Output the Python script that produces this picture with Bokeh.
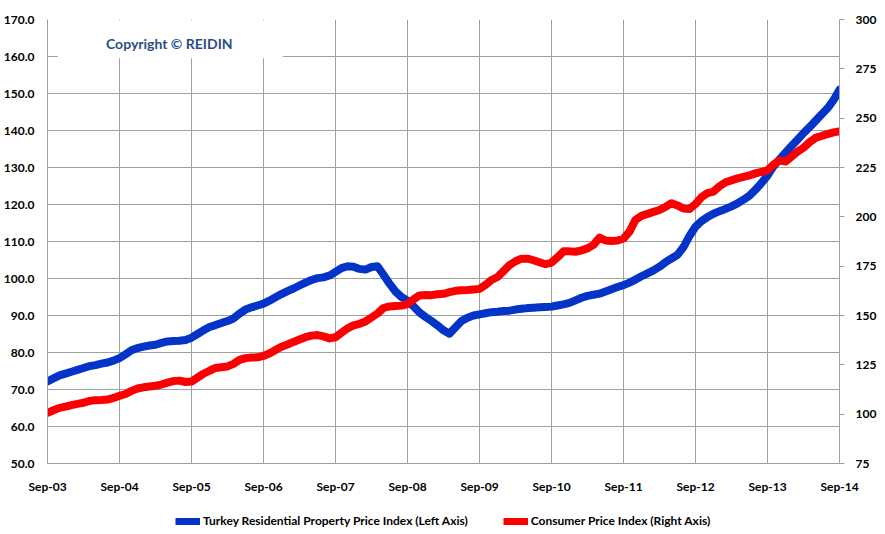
from bokeh.plotting import figure
from bokeh.layouts import column
from bokeh.models import (Range1d, LinearAxis, FixedTicker, BoxAnnotation, Label,
                          Legend, LegendItem, NumeralTickFormatter, ColumnDataSource)
from bokeh.embed import file_html
from bokeh.resources import INLINE

# Monthly data Sep-03 .. Sep-14
tick_labels = ["Sep-03", "Sep-04", "Sep-05", "Sep-06", "Sep-07", "Sep-08",
               "Sep-09", "Sep-10", "Sep-11", "Sep-12", "Sep-13", "Sep-14"]

property_index = [
    72.2, 73.0, 73.8, 74.3, 74.8, 75.3, 75.8, 76.3, 76.6, 77.0, 77.3, 77.8,   # Sep-03..Aug-04
    78.5, 79.5, 80.6, 81.2, 81.6, 81.9, 82.1, 82.6, 83.0, 83.1, 83.2, 83.4,   # Sep-04..Aug-05
    84.0, 85.0, 86.0, 86.9, 87.4, 88.0, 88.5, 89.2, 90.5, 91.6, 92.2, 92.7,   # Sep-05..Aug-06
    93.2, 94.0, 94.9, 95.8, 96.6, 97.3, 98.1, 98.9, 99.6, 100.1, 100.3, 100.8,  # Sep-06..Aug-07
    101.8, 102.8, 103.3, 103.2, 102.6, 102.4, 103.1, 103.3, 101.0, 98.6, 96.5, 95.0,  # Sep-07..Aug-08
    94.0, 92.5, 90.8, 89.6, 88.5, 87.3, 86.0, 85.1, 86.8, 88.5, 89.4, 90.0,   # Sep-08..Aug-09
    90.3, 90.6, 90.9, 91.0, 91.2, 91.3, 91.6, 91.8, 92.0, 92.1, 92.2, 92.3,   # Sep-09..Aug-10
    92.4, 92.7, 93.0, 93.4, 94.1, 94.8, 95.3, 95.6, 95.9, 96.5, 97.1, 97.7,   # Sep-10..Aug-11
    98.2, 98.9, 99.7, 100.6, 101.4, 102.2, 103.2, 104.4, 105.4, 106.4, 108.5, 111.5,  # Sep-11..Aug-12
    114.0, 115.5, 116.6, 117.5, 118.2, 118.8, 119.5, 120.3, 121.3, 122.4, 124.0, 125.8,  # Sep-12..Aug-13
    127.8, 130.3, 132.2, 134.0, 135.8, 137.5, 139.3, 140.9, 142.6, 144.3, 146.0, 148.2,  # Sep-13..Aug-14
    151.0,                                                                     # Sep-14
]

cpi = [
    100.7, 102.0, 103.2, 103.8, 104.6, 105.2, 105.8, 106.7, 107.1, 107.2, 107.4, 108.2,
    109.3, 110.2, 111.8, 113.0, 113.6, 114.0, 114.4, 115.0, 116.0, 116.8, 117.0, 116.3,
    116.5, 118.5, 120.5, 122.0, 123.4, 123.8, 124.2, 125.5, 127.5, 128.4, 128.7, 128.8,
    129.5, 130.8, 132.5, 134.2, 135.3, 136.6, 137.8, 139.0, 139.8, 140.1, 139.4, 138.4,
    139.0, 141.2, 143.5, 145.0, 145.8, 147.0, 149.0, 151.0, 153.8, 154.6, 154.8, 155.0,
    155.8, 158.2, 160.2, 160.4, 160.3, 160.8, 161.0, 161.8, 162.5, 162.8, 162.9, 163.2,
    163.5, 165.5, 168.0, 169.5, 172.5, 175.5, 177.5, 178.8, 178.8, 178.0, 177.0, 176.0,
    176.8, 179.5, 182.5, 182.5, 182.3, 183.0, 184.0, 185.8, 189.5, 188.0, 187.8, 188.0,
    189.0, 192.5, 198.5, 200.5, 201.5, 202.5, 203.5, 205.0, 206.9, 205.8, 204.2, 204.0,
    206.5, 210.0, 212.0, 212.8, 215.5, 217.5, 218.5, 219.5, 220.3, 221.0, 222.0, 222.8,
    223.5, 226.5, 228.6, 228.0, 230.5, 233.0, 235.0, 237.8, 240.0, 241.0, 241.9, 242.8,
    243.3,
]

left_ticks = [50, 60, 70, 80, 90, 100, 110, 120, 130, 140, 150, 160, 170]
right_ticks = [75, 100, 125, 150, 175, 200, 225, 250, 275, 300]

series_names = ["Turkey Residential Property Price Index (Left Axis)",
                "Consumer Price Index (Right Axis)"]

month_idx = list(range(len(property_index)))
src = ColumnDataSource(dict(m=month_idx, prop=property_index, cpi=cpi))

FONT = "Lato"
GRID = "#a0a0a0"
BLUE = "#0433c8"
RED = "#fb0000"

fig = figure(frame_width=792, frame_height=444, output_backend="svg", toolbar_location=None,
             x_range=Range1d(0, len(property_index) - 1), y_range=Range1d(50, 170),
             min_border_left=40, min_border_right=37, min_border_top=19, min_border_bottom=42,
             background_fill_color="white", border_fill_color="white", outline_line_color=None)
fig.extra_y_ranges = {"right": Range1d(75, 300)}

xticks = [i * 12 for i in range(len(tick_labels))]
fig.xaxis.ticker = FixedTicker(ticks=xticks)
fig.xaxis.major_label_overrides = {t: lab for t, lab in zip(xticks, tick_labels)}
fig.yaxis.ticker = FixedTicker(ticks=left_ticks)
fig.yaxis.formatter = NumeralTickFormatter(format="0.0")

for ax in (fig.xaxis[0], fig.yaxis[0]):
    ax.axis_line_color = GRID
    ax.major_tick_line_color = None
    ax.minor_tick_line_color = None
    ax.major_label_text_font = FONT
    ax.major_label_text_font_style = "bold"
    ax.major_label_text_font_size = "12px"
    ax.major_label_text_color = "#000000"
fig.yaxis.major_label_standoff = 7
fig.xaxis.major_label_standoff = 9

raxis = LinearAxis(y_range_name="right", ticker=FixedTicker(ticks=right_ticks))
raxis.axis_line_color = GRID
raxis.major_tick_line_color = GRID
raxis.major_tick_out = 5
raxis.major_tick_in = 0
raxis.minor_tick_line_color = None
raxis.major_label_standoff = 11
raxis.major_label_text_font = FONT
raxis.major_label_text_font_style = "bold"
raxis.major_label_text_font_size = "12px"
raxis.major_label_text_color = "#000000"
fig.add_layout(raxis, "right")

fig.xgrid.ticker = FixedTicker(ticks=xticks)
fig.ygrid.ticker = FixedTicker(ticks=left_ticks)
fig.xgrid.grid_line_color = GRID
fig.ygrid.grid_line_color = GRID

fig.line("m", "prop", source=src, line_color=BLUE, line_width=8,
         line_join="round", line_cap="round")
fig.line("m", "cpi", source=src, y_range_name="right", line_color=RED, line_width=8,
         line_join="round", line_cap="round")

# copyright box (white, hides gridlines)
box = BoxAnnotation(left=1.7, right=39.2, bottom=159.5, top=169.75,
                    fill_color="white", fill_alpha=1.0, line_alpha=0, level="underlay")
fig.add_layout(box)
fig.add_layout(Label(x=20.3, y=163.6, text="Copyright © REIDIN", text_align="center",
                     text_baseline="middle", text_font=FONT, text_font_style="bold",
                     text_font_size="14px", text_color="#2d4d82"))

# legend strip below the chart (same series, drawn outside the strip's visible range)
leg = figure(width=869, height=25, output_backend="svg", toolbar_location=None,
             x_range=Range1d(0, 1), y_range=Range1d(0, 1), x_axis_type=None, y_axis_type=None,
             min_border_left=0, min_border_right=0, min_border_top=0, min_border_bottom=0,
             outline_line_color=None, background_fill_color="white", border_fill_color="white")
leg.grid.visible = False
lb = leg.line("m", "prop", source=src, line_color=BLUE, line_width=7)
lr = leg.line("m", "cpi", source=src, line_color=RED, line_width=7)
legend = Legend(items=[LegendItem(label=series_names[0], renderers=[lb]),
                       LegendItem(label=series_names[1], renderers=[lr])],
                location=(128, 2), orientation="horizontal", glyph_width=25, glyph_height=14,
                label_standoff=3, spacing=35, padding=0, margin=0, border_line_alpha=0,
                background_fill_alpha=0, label_text_font=FONT, label_text_font_style="bold",
                label_text_font_size="12px", label_height=14, label_text_color="#000000")
leg.add_layout(legend, "center")

p = column(fig, leg, spacing=0)

open("out.html", "w").write(file_html(p, INLINE))
